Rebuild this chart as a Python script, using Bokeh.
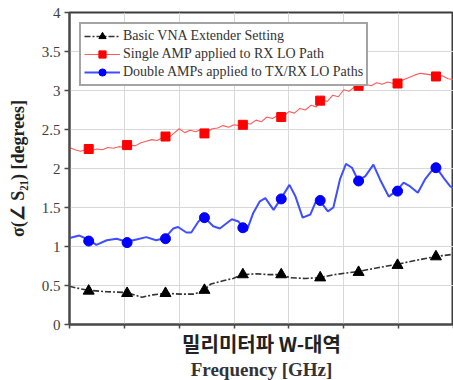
from bokeh.plotting import figure
from bokeh.models import Range1d, FixedTicker, Legend, LegendItem, Title
from bokeh.embed import file_html
from bokeh.resources import INLINE

# ---------------- data ----------------
y_ticks = [0, 0.5, 1, 1.5, 2, 2.5, 3, 3.5, 4]
y_tick_labels = ["0", "0.5", "1", "1.5", "2", "2.5", "3", "3.5", "4"]
x_ticks = [75, 80, 85, 90, 95, 100, 105, 110]

marker_freq = [76.75, 80.25, 83.75, 87.3, 90.8, 94.3, 97.85, 101.35, 104.9, 108.4]

basic_markers = [0.43, 0.40, 0.40, 0.44, 0.64, 0.64, 0.60, 0.67, 0.76, 0.87]
single_markers = [2.25, 2.30, 2.41, 2.45, 2.56, 2.66, 2.87, 3.06, 3.09, 3.18]
double_markers = [1.07, 1.05, 1.10, 1.37, 1.24, 1.61, 1.59, 1.84, 1.71, 2.01]

basic_freq = [75.0, 75.9, 76.7, 78.4, 80.2, 81.6, 82.6, 83.7, 85.05, 86.4, 87.25, 87.9,
              89.0, 89.9, 90.8, 92.05, 93.15, 94.3, 95.1, 96.5, 97.75, 99.2, 101.3,
              103.2, 104.8, 106.5, 108.3, 110.0]
basic_vals = [0.49, 0.46, 0.44, 0.42, 0.41, 0.35, 0.38, 0.40, 0.39, 0.39, 0.44, 0.52,
              0.56, 0.59, 0.64, 0.65, 0.64, 0.64, 0.60, 0.59, 0.60, 0.64, 0.68,
              0.73, 0.77, 0.82, 0.87, 0.90]

single_freq = [75.0, 75.5, 76.0, 76.5, 77.0, 77.5, 78.0, 78.5, 79.0, 79.5, 80.0, 80.5,
               81.0, 81.5, 82.0, 82.5, 83.0, 83.5, 84.0, 84.5, 85.0, 85.5, 86.0, 86.5,
               87.0, 87.5, 88.0, 88.5, 89.0, 89.5, 90.0, 90.5, 91.0, 91.5, 92.0, 92.5,
               93.0, 93.5, 94.0, 94.5, 95.0, 95.5, 96.0, 96.5, 97.0, 97.5, 98.0, 98.5,
               99.0, 99.5, 100.0, 100.5, 101.0, 101.5, 102.0, 102.5, 103.0, 103.5, 104.0,
               104.5, 105.0, 105.5, 106.0, 106.5, 107.0, 107.5, 108.0, 108.5, 109.0,
               109.5, 110.0]
single_vals = [2.27, 2.24, 2.22, 2.24, 2.23, 2.25, 2.24, 2.27, 2.26, 2.28, 2.27, 2.30,
               2.29, 2.33, 2.35, 2.37, 2.36, 2.40, 2.39, 2.45, 2.51, 2.46, 2.49, 2.47,
               2.50, 2.46, 2.51, 2.52, 2.55, 2.53, 2.56, 2.55, 2.58, 2.57, 2.62, 2.60,
               2.66, 2.64, 2.68, 2.67, 2.73, 2.71, 2.77, 2.75, 2.81, 2.79, 2.88, 2.86,
               2.94, 2.92, 3.01, 2.99, 3.05, 3.04, 3.08, 3.06, 3.10, 3.08, 3.11,
               3.09, 3.11, 3.14, 3.17, 3.20, 3.22, 3.21, 3.20, 3.18, 3.19,
               3.15, 3.14]

double_freq = [75.0, 75.9, 76.7, 77.45, 78.4, 79.3, 80.2, 81.1, 82.0, 82.9, 83.7, 84.45,
               84.9, 85.65, 86.1, 86.75, 87.25, 88.1, 88.7, 89.8, 90.4, 90.8, 91.15,
               91.75, 92.35, 92.85, 93.6, 94.3, 95.05, 95.6, 96.25, 96.95, 97.4, 97.75,
               98.55, 99.05, 99.65, 100.2, 100.75, 101.3, 101.95, 102.7, 103.3, 104.1,
               104.85, 105.45, 106.05, 106.75, 107.4, 108.35, 109.1, 109.7, 110.0]
double_vals = [1.11, 1.14, 1.09, 1.02, 1.08, 1.10, 1.06, 1.09, 1.12, 1.08, 1.11, 1.23,
               1.25, 1.18, 1.18, 1.32, 1.38, 1.26, 1.23, 1.35, 1.32, 1.25, 1.20,
               1.43, 1.58, 1.62, 1.47, 1.62, 1.79, 1.64, 1.37, 1.41, 1.56, 1.60,
               1.45, 1.50, 1.86, 2.06, 2.01, 1.85, 1.90, 2.05, 1.86, 1.64,
               1.72, 1.82, 1.77, 1.69, 1.86, 2.03, 1.88, 1.77, 1.75]

legend_labels = ["Basic VNA Extender Setting",
                 "Single AMP applied to RX LO Path",
                 "Double AMPs applied to TX/RX LO Paths"]
x_label_ko = "밀리미터파 W-대역"
x_label_en = "Frequency [GHz]"
y_label = "σ(∠ S₂₁) [degrees]"

# ---------------- figure ----------------
SERIF = "Liberation Serif"
p = figure(width=453, height=380, output_backend="svg", toolbar_location=None,
           x_range=Range1d(75, 110), y_range=Range1d(0, 4),
           min_border_left=69, min_border_right=0, min_border_top=12, min_border_bottom=55)
p.background_fill_color = "white"
p.border_fill_color = "white"
p.outline_line_color = "#3c3c3c"
p.outline_line_width = 2

# axes
p.yaxis.ticker = FixedTicker(ticks=y_ticks)
p.yaxis.major_label_overrides = {t: l for t, l in zip(y_ticks, y_tick_labels)}
p.yaxis.major_label_text_font = SERIF
p.yaxis.major_label_text_font_size = "15px"
p.yaxis.major_label_text_color = "#404040"
p.yaxis.major_label_standoff = 4
p.yaxis.axis_label = y_label
p.yaxis.axis_label_text_font = SERIF
p.yaxis.axis_label_text_font_style = "bold"
p.yaxis.axis_label_text_font_size = "18px"
p.yaxis.axis_label_text_color = "#222222"
p.yaxis.axis_label_standoff = 11

p.xaxis.ticker = FixedTicker(ticks=x_ticks)
p.xaxis.major_label_text_font_size = "0px"

for ax in (p.xaxis[0], p.yaxis[0]):
    ax.axis_line_color = "#4a4a4a"
    ax.axis_line_width = 2
    ax.major_tick_line_color = "#4a4a4a"
    ax.major_tick_line_width = 1.5
    ax.major_tick_out = 5
    ax.major_tick_in = 0
    ax.minor_tick_line_color = None
p.xaxis.major_tick_out = 4

p.grid.grid_line_color = "#d8d8d8"
p.grid.grid_line_width = 1
p.xgrid.ticker = FixedTicker(ticks=x_ticks)
p.ygrid.ticker = FixedTicker(ticks=y_ticks)

# x axis labels (two lines)
t1 = Title(text=x_label_ko, align="center", text_font="Noto Sans CJK KR",
           text_font_size="20px", text_font_style="bold", text_color="#222222")
t1.standoff = -4
p.add_layout(t1, "below")
t2 = Title(text=x_label_en, align="center", text_font=SERIF,
           text_font_size="19px", text_font_style="bold", text_color="#333333")
t2.standoff = 2
p.add_layout(t2, "below")

# ---------------- series ----------------
black_line = p.line(basic_freq, basic_vals, line_color="#333333", line_width=1.6,
                    line_dash="6 2 2 2")
black_mk = p.scatter(marker_freq, basic_markers, marker="triangle", size=11,
                     fill_color="black", line_color="black")

red_line = p.line(single_freq, single_vals, line_color="#ff5a5a", line_width=1.1)
red_mk = p.scatter(marker_freq, single_markers, marker="square", size=9,
                   fill_color="#ff0000", line_color="#ff0000")

blue_line = p.line(double_freq, double_vals, line_color="#3f4fff", line_width=2)
blue_mk = p.scatter(marker_freq, double_markers, marker="circle", size=10,
                    fill_color="#0000ff", line_color="#0000ff")

legend = Legend(items=[
    LegendItem(label=legend_labels[0], renderers=[black_line, black_mk]),
    LegendItem(label=legend_labels[1], renderers=[red_line, red_mk]),
    LegendItem(label=legend_labels[2], renderers=[blue_line, blue_mk]),
], location="top_left")
legend.margin = 10
legend.padding = 3
legend.spacing = 0
legend.glyph_width = 36
legend.glyph_height = 18
legend.label_height = 18
legend.label_standoff = 3
legend.label_text_font = SERIF
legend.label_text_font_size = "14px"
legend.label_text_color = "#333333"
legend.border_line_color = "#4a4a4a"
legend.border_line_width = 2
legend.background_fill_color = "white"
legend.background_fill_alpha = 1
p.add_layout(legend, "center")

open("out.html", "w").write(file_html(p, INLINE))
